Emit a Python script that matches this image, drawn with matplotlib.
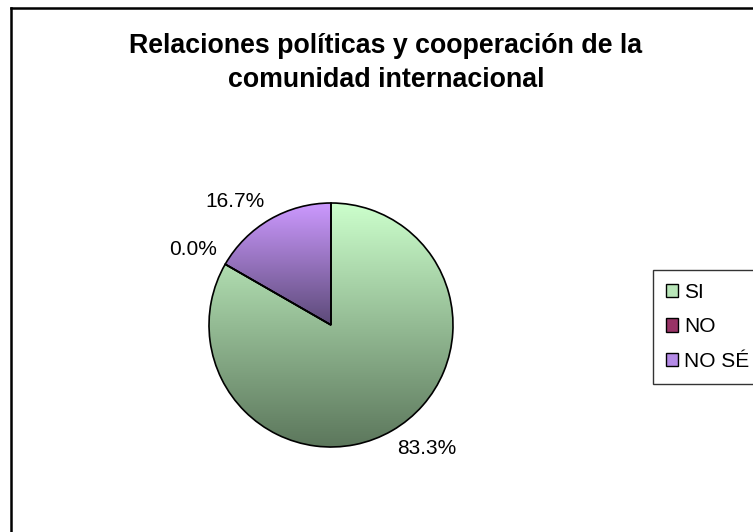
import numpy as np
import matplotlib
matplotlib.use("Agg")
import matplotlib.pyplot as plt
from matplotlib.colors import LinearSegmentedColormap
from matplotlib.patches import Patch
from matplotlib.lines import Line2D

plt.rcParams['font.family'] = ['Liberation Sans', 'DejaVu Sans']

title_lines = ["Relaciones políticas y cooperación de la", "comunidad internacional"]
categories = ["SI", "NO", "NO SÉ"]
values = [83.3, 0.0, 16.7]
top_colors = ["#ccffcc", "#b0487a", "#cc99ff"]
bottom_colors = ["#5c775c", "#662244", "#5c4a78"]
legend_colors = ["#b9e6b9", "#993366", "#b48ae6"]

W, H = 753, 532
fig = plt.figure(figsize=(W / 100, H / 100), dpi=100)
fig.patch.set_facecolor("white")

# outer frame (left and top visible)
fig.add_artist(Line2D([11 / W, 11 / W], [0, 1 - 7.5 / H], transform=fig.transFigure,
                      color="black", lw=1.8))
fig.add_artist(Line2D([11 / W, 1], [1 - 7.5 / H, 1 - 7.5 / H], transform=fig.transFigure,
                      color="black", lw=1.8))

cx, cy, r = 331, H - 325, 122
ax = fig.add_axes([(cx - r) / W, (cy - r) / H, 2 * r / W, 2 * r / H])
ax.axis("off")

wedges, _ = ax.pie(values, startangle=90, counterclock=False, radius=1.0,
                   wedgeprops=dict(edgecolor="black", linewidth=1.2),
                   colors=["none"] * len(values))

grad = np.linspace(0, 1, 256).reshape(-1, 1)
for w, v, c0, c1 in zip(wedges, values, top_colors, bottom_colors):
    if v > 0:
        th = np.radians(np.linspace(w.theta1, w.theta2, 400))
        xs = np.concatenate([[w.center[0]], w.center[0] + w.r * np.cos(th)])
        ys = np.concatenate([[w.center[1]], w.center[1] + w.r * np.sin(th)])
        cmap = LinearSegmentedColormap.from_list("g", [c1, c0])
        im = ax.imshow(grad, cmap=cmap, origin="lower", aspect="auto",
                       extent=[xs.min(), xs.max(), ys.min(), ys.max()], zorder=0.5)
        im.set_clip_path(w)
        w.set_zorder(1)
    mid = np.radians((w.theta1 + w.theta2) / 2)
    ca, sa = np.cos(mid), np.sin(mid)
    ax.text(1.08 * ca, 1.08 * sa, f"{v:.1f}%",
            ha="left" if ca > 0 else "right",
            va="bottom" if sa > 0 else "top",
            fontsize=15)

ax.set_xlim(-1, 1)
ax.set_ylim(-1, 1)
ax.set_aspect("equal")

fig.text(386 / W, 1 - 53 / H, title_lines[0], ha="center", va="baseline",
         fontsize=19.3, fontweight="bold")
fig.text(386 / W, 1 - 87 / H, title_lines[1], ha="center", va="baseline",
         fontsize=19.3, fontweight="bold")

handles = [Patch(facecolor=c, edgecolor="black", linewidth=1.0) for c in legend_colors]
leg = fig.legend(handles, categories, loc="upper left",
                 bbox_to_anchor=(653 / W, 1 - 270 / H), frameon=True, fancybox=False,
                 fontsize=15, handlelength=0.6, handleheight=0.6, handletextpad=0.3,
                 labelspacing=0.76, borderpad=0.6, borderaxespad=0)
leg.get_frame().set_edgecolor("black")
leg.get_frame().set_linewidth(1.0)

fig.savefig("out.png", dpi=100, facecolor="white")
